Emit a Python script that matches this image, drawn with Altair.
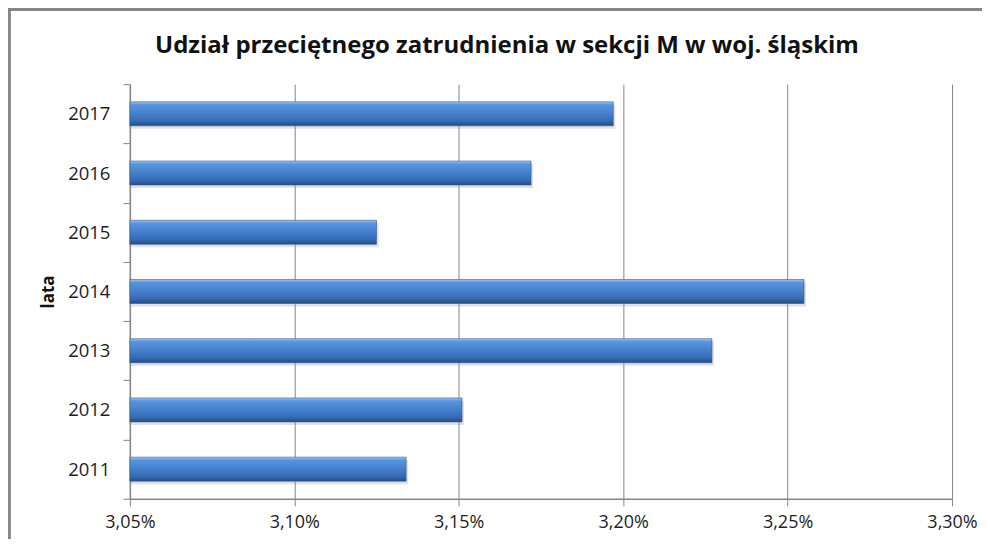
import altair as alt
import pandas as pd

years = ["2017", "2016", "2015", "2014", "2013", "2012", "2011"]
shares = [3.197, 3.172, 3.125, 3.255, 3.227, 3.151, 3.134]
x_ticks = [3.05, 3.10, 3.15, 3.20, 3.25, 3.30]
x_min, x_max = 3.05, 3.30

df = pd.DataFrame({"rok": years, "udzial": shares})

FONT = "Open Sans"
GRAY = "#868686"

x_enc = alt.X(
    "udzial:Q",
    scale=alt.Scale(domain=[x_min, x_max], nice=False, zero=False),
    axis=alt.Axis(
        values=x_ticks,
        labelExpr="replace(format(datum.value, '.2f'), '.', ',') + '%'",
        labelFlush=False,
        labelOverlap=False,
        title=None,
        grid=True,
        gridColor=GRAY,
        gridWidth=1,
        domainColor=GRAY,
        domainWidth=1.5,
        tickColor=GRAY,
        tickSize=7,
        labelFont=FONT,
        labelFontSize=18,
        labelColor="#1e1e1e",
        labelPadding=8,
    ),
)
y_enc = alt.Y(
    "rok:N",
    sort=years,
    scale=alt.Scale(paddingInner=0, paddingOuter=0),
    axis=alt.Axis(
        title="lata",
        titleFont=FONT,
        titleFontSize=17,
        titleFontWeight="bold",
        titleColor="#111111",
        titlePadding=10,
        tickBand="extent",
        tickColor=GRAY,
        tickSize=7,
        domainColor=GRAY,
        domainWidth=1.5,
        labelFont=FONT,
        labelFontSize=18.5,
        labelColor="#1e1e1e",
        labelPadding=13,
        grid=False,
    ),
)

gradient = alt.Gradient(
    gradient="linear",
    x1=0, x2=0, y1=0, y2=1,
    stops=[
        alt.GradientStop(offset=0.0, color="#a3c6f0"),
        alt.GradientStop(offset=0.12, color="#5a96dd"),
        alt.GradientStop(offset=0.45, color="#4682cf"),
        alt.GradientStop(offset=0.8, color="#366bb3"),
        alt.GradientStop(offset=1.0, color="#244a84"),
    ],
)

shadow = alt.Chart(df).mark_bar(
    size=24, color="#9a9a9a", opacity=0.3, yOffset=3, xOffset=2
).encode(x=x_enc, x2=alt.datum(x_min), y=y_enc)

bars = alt.Chart(df).mark_bar(
    size=24, fill=gradient, stroke="#2f5d9a", strokeWidth=0.6
).encode(x=x_enc, x2=alt.datum(x_min), y=y_enc)

frame = alt.Chart(df).mark_rect(
    fill="transparent", stroke=GRAY, strokeWidth=2.5
).encode(
    x=alt.value(-121), x2=alt.value(3000),
    y=alt.value(-75), y2=alt.value(3000),
)

chart = alt.layer(frame, shadow, bars).properties(
    width=823,
    height=415,
    padding={"left": 122, "top": 76, "right": 30, "bottom": 40},
    autosize=alt.AutoSizeParams(type="none"),
    title=alt.TitleParams(
        text="Udział przeciętnego zatrudnienia w sekcji M w woj. śląskim",
        font=FONT,
        fontSize=24,
        fontWeight="bold",
        color="#111111",
        anchor="middle",
        dx=-34,
        dy=50,
        offset=0,
    ),
).configure_view(stroke=None)

chart.save("out.html", embed_options={"renderer": "svg", "actions": False})
